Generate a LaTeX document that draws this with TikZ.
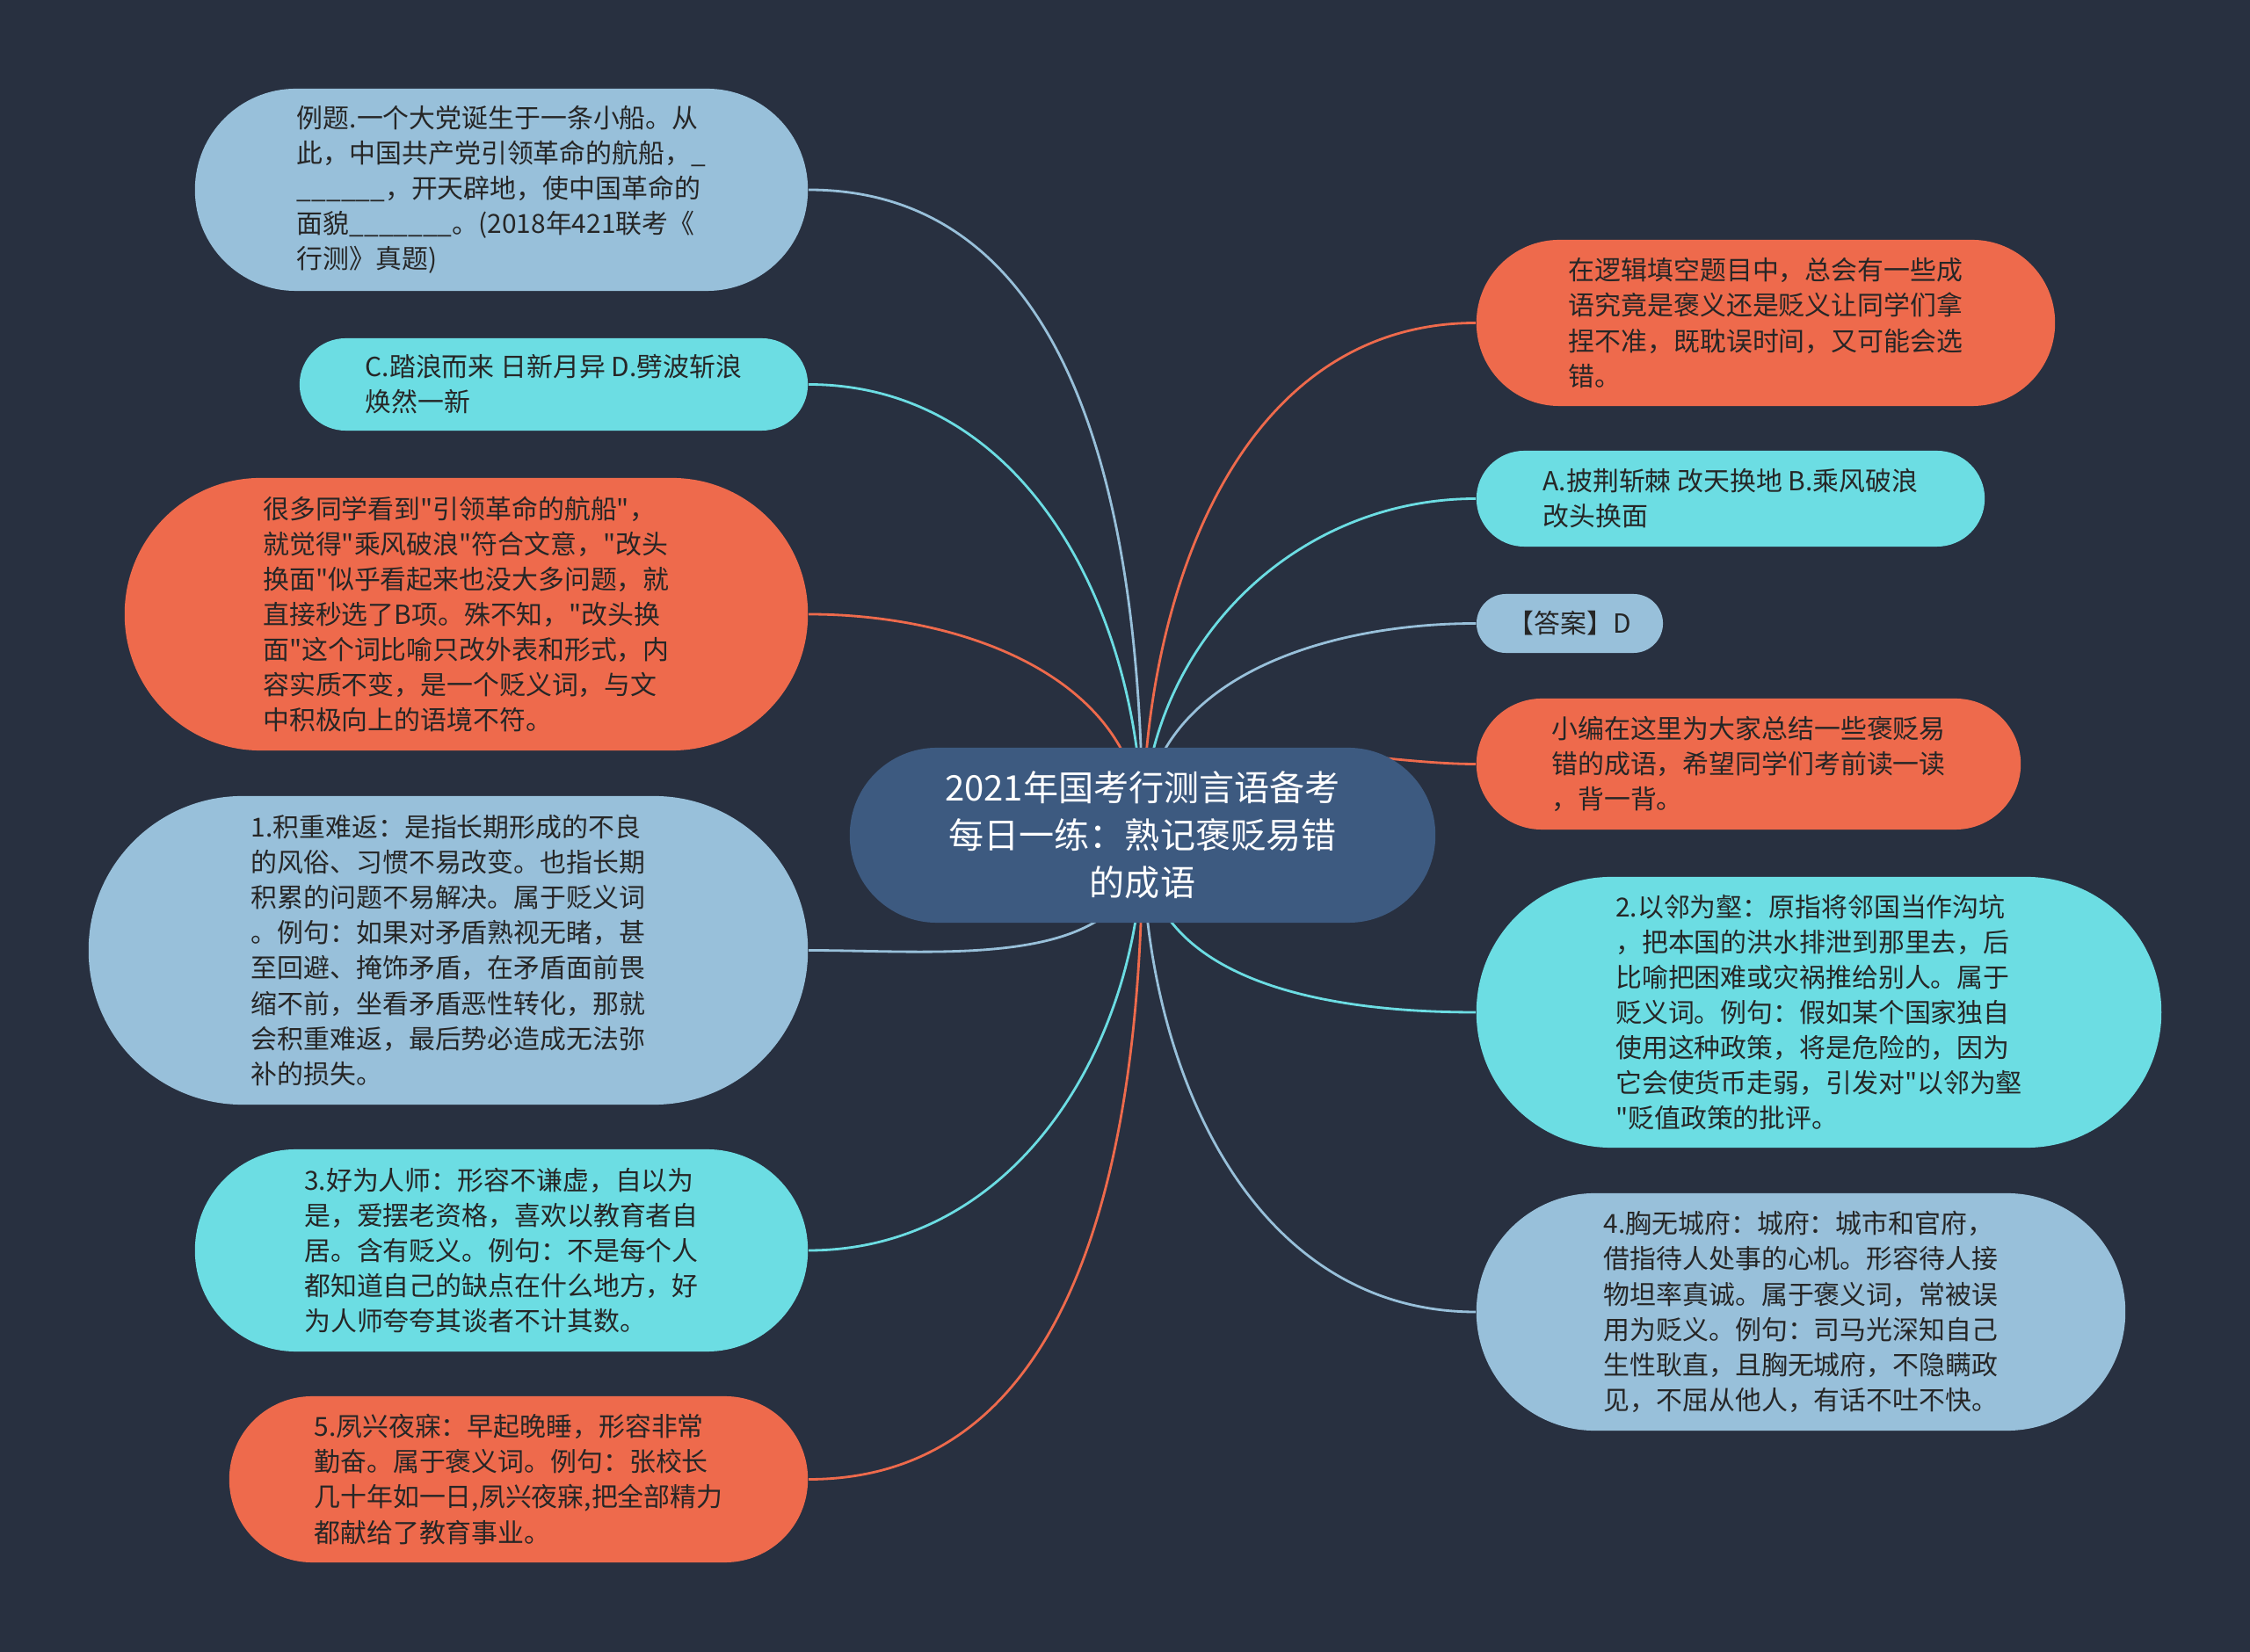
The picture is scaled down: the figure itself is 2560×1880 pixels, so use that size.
\documentclass[tikz,border=0pt]{standalone}
\usepackage{fontspec}
\newfontfamily\cjk{Noto Sans CJK SC}
\pgfdeclarelayer{bg}
\pgfsetlayers{bg,main}
\definecolor{bgc}{HTML}{283040}
\definecolor{orng}{HTML}{EE6A4C}
\definecolor{cyn}{HTML}{6CDDE3}
\definecolor{lblu}{HTML}{98C0DA}
\definecolor{rootc}{HTML}{3D5A80}
\definecolor{txt}{HTML}{262626}
\tikzset{
  bub/.style n args={3}{rectangle, fill=#1, minimum width=#2, minimum height=#3,
    rounded corners=0.499*#3, inner sep=0pt, align=left, text=txt,
    font=\cjk\fontsize{8.5pt}{11.4pt}\selectfont},
  rootbox/.style={rectangle, fill=rootc, minimum width=6.66cm, minimum height=1.99cm,
    rounded corners=0.99cm, inner sep=0pt, align=center, text=white,
    font=\cjk\fontsize{11.4pt}{15.4pt}\selectfont},
  link/.style={draw=#1, line width=0.8pt},
}
\newcommand{\us}{\textunderscore}
\begin{document}
\begin{tikzpicture}[x=0.01cm,y=-0.01cm]
\useasboundingbox (0,0) rectangle (2560,1880);

\node[rootbox] (root) at (1300,950.5) {2021年国考行测言语备考\\每日一练：熟记褒贬易错\\的成语};

\node[bub={lblu}{6.97cm}{2.30cm}] (l1) at (570.5,216) {例题.一个大党诞生于一条小船。从\\此，中国共产党引领革命的航船，\us\\\us\us\us\us\us\us，开天辟地，使中国革命的\\面貌\us\us\us\us\us\us\us。(2018年421联考《\\行测》真题)};
\node[bub={cyn}{5.78cm}{1.05cm}] (l2) at (630,437.5) {C.踏浪而来 日新月异 D.劈波斩浪\\焕然一新};
\node[bub={orng}{7.77cm}{3.10cm}] (l3) at (530.5,699) {很多同学看到"引领革命的航船"，\\就觉得"乘风破浪"符合文意，"改头\\换面"似乎看起来也没大多问题，就\\直接秒选了B项。殊不知，"改头换\\面"这个词比喻只改外表和形式，内\\容实质不变，是一个贬义词，与文\\中积极向上的语境不符。};
\node[bub={lblu}{8.18cm}{3.51cm}] (l4) at (510,1081.5) {1.积重难返：是指长期形成的不良\\的风俗、习惯不易改变。也指长期\\积累的问题不易解决。属于贬义词\\。例句：如果对矛盾熟视无睹，甚\\至回避、掩饰矛盾，在矛盾面前畏\\缩不前，坐看矛盾恶性转化，那就\\会积重难返，最后势必造成无法弥\\补的损失。};
\node[bub={cyn}{6.97cm}{2.30cm}] (l5) at (570.5,1423) {3.好为人师：形容不谦虚，自以为\\是，爱摆老资格，喜欢以教育者自\\居。含有贬义。例句：不是每个人\\都知道自己的缺点在什么地方，好\\为人师夸夸其谈者不计其数。};
\node[bub={orng}{6.58cm}{1.89cm}] (l6) at (590,1683.5) {5.夙兴夜寐：早起晚睡，形容非常\\勤奋。属于褒义词。例句：张校长\\几十年如一日,夙兴夜寐,把全部精力\\都献给了教育事业。};

\node[bub={orng}{6.58cm}{1.89cm}] (r1) at (2009,367.5) {在逻辑填空题目中，总会有一些成\\语究竟是褒义还是贬义让同学们拿\\捏不准，既耽误时间，又可能会选\\错。};
\node[bub={cyn}{5.78cm}{1.09cm}] (r2) at (1969,567.5) {A.披荆斩棘 改天换地 B.乘风破浪\\改头换面};
\node[bub={lblu}{2.12cm}{0.67cm}] (r3) at (1786,709.5) {【答案】D};
\node[bub={orng}{6.19cm}{1.49cm}] (r4) at (1989.5,869.5) {小编在这里为大家总结一些褒贬易\\错的成语，希望同学们考前读一读\\，背一背。};
\node[bub={cyn}{7.79cm}{3.08cm}] (r5) at (2069.5,1152) {2.以邻为壑：原指将邻国当作沟坑\\，把本国的洪水排泄到那里去，后\\比喻把困难或灾祸推给别人。属于\\贬义词。例句：假如某个国家独自\\使用这种政策，将是危险的，因为\\它会使货币走弱，引发对"以邻为壑\\"贬值政策的批评。};
\node[bub={lblu}{7.38cm}{2.70cm}] (r6) at (2049,1493) {4.胸无城府：城府：城市和官府，\\借指待人处事的心机。形容待人接\\物坦率真诚。属于褒义词，常被误\\用为贬义。例句：司马光深知自己\\生性耿直，且胸无城府，不隐瞒政\\见，不屈从他人，有话不吐不快。};

\begin{pgfonlayer}{bg}
\fill[bgc] (0,0) rectangle (2560,1880);
\draw[link=lblu] (root.center) to[out=90,in=0] (l1.east);
\draw[link=cyn] (root.center) to[out=90,in=0] (l2.east);
\draw[link=orng] (root.center) to[out=90,in=0] (l3.east);
\draw[link=lblu] (root.center) to[out=-90,in=0] (l4.east);
\draw[link=cyn] (root.center) to[out=-90,in=0] (l5.east);
\draw[link=orng] (root.center) to[out=-90,in=0] (l6.east);
\draw[link=orng] (root.center) to[out=90,in=180] (r1.west);
\draw[link=cyn] (root.center) to[out=90,in=180] (r2.west);
\draw[link=lblu] (root.center) to[out=90,in=180] (r3.west);
\draw[link=orng] (root.center) to[out=90,in=180] (r4.west);
\draw[link=cyn] (root.center) to[out=-90,in=180] (r5.west);
\draw[link=lblu] (root.center) to[out=-90,in=180] (r6.west);
\end{pgfonlayer}
\end{tikzpicture}
\end{document}
